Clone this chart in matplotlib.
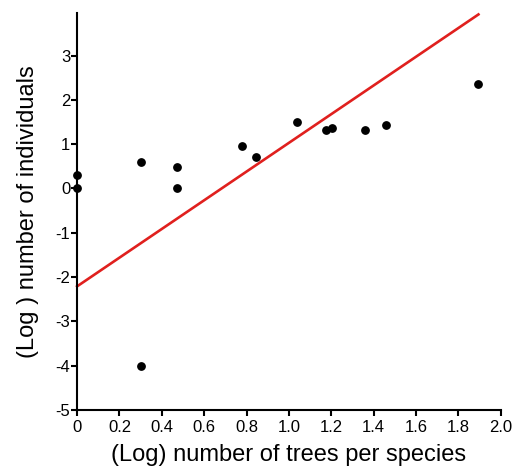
import matplotlib.pyplot as plt
import numpy as np

plt.rcParams['font.family'] = ['Liberation Sans', 'DejaVu Sans']
plt.rcParams['axes.unicode_minus'] = False

# observed points (log trees per species, log individuals)
log_trees = [0.0, 0.0, 0.30, 0.30, 0.47, 0.47, 0.78, 0.845, 1.04, 1.175, 1.205, 1.36, 1.46, 1.895]
log_indiv = [0.31, 0.0, 0.60, -4.0, 0.49, 0.0, 0.96, 0.71, 1.49, 1.31, 1.36, 1.32, 1.43, 2.36]

# fitted line
fit_intercept = -2.21
fit_slope = 3.24
fit_x = [0.0, 1.895]

fig = plt.figure(figsize=(5.21, 4.69), dpi=100)
ax = fig.add_axes([0.148, 0.126, 0.813, 0.847])

fx = np.array(fit_x)
ax.plot(fx, fit_intercept + fit_slope * fx, color='#e0201e', linewidth=1.9, zorder=2, clip_on=False)
ax.scatter(log_trees, log_indiv, s=28, color='black', zorder=3, clip_on=False)

ax.set_xlim(0, 2.0)
ax.set_ylim(-5, 3.97)
ax.set_xticks(np.arange(0, 2.01, 0.2))
ax.set_xticklabels(['0', '0.2', '0.4', '0.6', '0.8', '1.0', '1.2', '1.4', '1.6', '1.8', '2.0'])
ax.set_yticks(range(-5, 4))

for side in ['top', 'right']:
    ax.spines[side].set_visible(False)
for side in ['left', 'bottom']:
    ax.spines[side].set_linewidth(1.5)
ax.tick_params(width=1.5, length=4, labelsize=12, pad=1)
ax.tick_params(axis='x', pad=3)

ax.set_xlabel('(Log) number of trees per species', fontsize=17, labelpad=7)
ax.set_ylabel('(Log ) number of individuals', fontsize=17, labelpad=12)

fig.savefig('out.png', dpi=100)
